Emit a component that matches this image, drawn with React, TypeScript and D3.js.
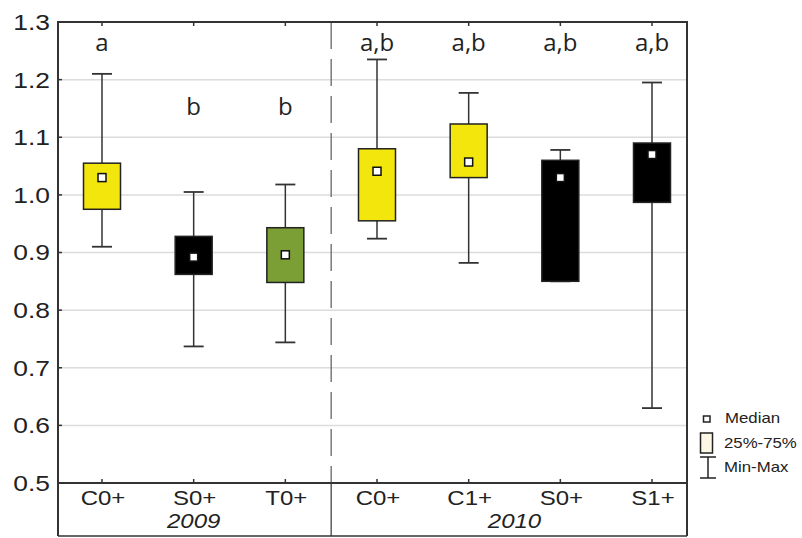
import React from "react";
import * as d3 from "d3";

const categories = ["C0+", "S0+", "T0+", "C0+", "C1+", "S0+", "S1+"];
const years = ["2009", "2010"];
const yearGroups = [0, 0, 0, 1, 1, 1, 1];
const mins = [0.91, 0.737, 0.744, 0.924, 0.882, 0.85, 0.63];
const q1s = [0.975, 0.862, 0.848, 0.955, 1.03, 0.85, 0.987];
const medians = [1.03, 0.892, 0.896, 1.041, 1.057, 1.03, 1.07];
const q3s = [1.055, 0.928, 0.943, 1.08, 1.123, 1.06, 1.09];
const maxs = [1.21, 1.005, 1.018, 1.235, 1.177, 1.078, 1.195];
const fills = ["#f2e60c", "#000000", "#7b9e35", "#f2e60c", "#f2e60c", "#000000", "#000000"];
const letters = ["a", "b", "b", "a,b", "a,b", "a,b", "a,b"];
const letterRows = [0, 1, 1, 0, 0, 0, 0];
const yTicks = [0.5, 0.6, 0.7, 0.8, 0.9, 1.0, 1.1, 1.2, 1.3];
const legendLabels = ["Median", "25%-75%", "Min-Max"];

const SX = 1.2;
const fontAx = "Liberation Sans, Arial, sans-serif";

function T(props: { x: number; y: number; anchor?: string; size: number; italic?: boolean; family?: string; dy?: string; children: React.ReactNode }) {
  return (
    <g transform={`translate(${props.x},${props.y}) scale(${SX},1)`}>
      <text
        x={0}
        y={0}
        dy={props.dy}
        textAnchor={props.anchor || "start"}
        fontSize={props.size}
        fontStyle={props.italic ? "italic" : "normal"}
        fontFamily={props.family || fontAx}
        fill="#222"
      >
        {props.children}
      </text>
    </g>
  );
}

export default function App() {
  const W = 802, H = 538;
  const left = 58, right = 687, top = 22, bottom = 483, frameBottom = 536;
  const y = d3.scaleLinear().domain([0.5, 1.3]).range([bottom, top]);
  const x = d3.scalePoint<number>().domain(d3.range(categories.length)).range([102, 652]);
  const bw = 37, cap = 20;
  const sepX = (x(2)! + x(3)!) / 2;
  const letterY = [51, 115];

  return (
    <svg width={W} height={H} style={{ position: "absolute", left: 0, top: 0, background: "#fff" }}>
      {yTicks.map((t) => (
        <line key={"g" + t} x1={left} x2={right} y1={y(t)} y2={y(t)} stroke="#dcdcdc" strokeWidth={1.5} />
      ))}
      <line x1={sepX} x2={sepX} y1={top} y2={bottom} stroke="#666" strokeWidth={1.3} strokeDasharray="27,10" />
      <line x1={sepX} x2={sepX} y1={bottom} y2={frameBottom} stroke="#444" strokeWidth={1.3} />
      <line x1={left} x2={right} y1={top} y2={top} stroke="#333" strokeWidth={2} />
      <line x1={left} x2={right} y1={bottom} y2={bottom} stroke="#333" strokeWidth={2} />
      <line x1={left} x2={right} y1={frameBottom} y2={frameBottom} stroke="#333" strokeWidth={1.5} />
      <line x1={left} x2={left} y1={top - 1} y2={frameBottom} stroke="#333" strokeWidth={2} />
      <line x1={right} x2={right} y1={top - 1} y2={frameBottom} stroke="#333" strokeWidth={2} />
      {yTicks.map((t) => (
        <g key={"t" + t}>
          <line x1={left} x2={left + 4} y1={y(t)} y2={y(t)} stroke="#333" strokeWidth={1.5} />
          <T x={50} y={y(t)} dy="0.36em" anchor="end" size={22}>{d3.format(".1f")(t)}</T>
        </g>
      ))}
      {categories.map((c, i) => (
        <g key={"ct" + i}>
          <line x1={x(i)} x2={x(i)} y1={top} y2={top + 4} stroke="#333" strokeWidth={1.5} />
          <line x1={x(i)} x2={x(i)} y1={bottom} y2={bottom - 4} stroke="#333" strokeWidth={1.5} />
          <T x={x(i)! + 1} y={505} anchor="middle" size={20}>{c}</T>
        </g>
      ))}
      {years.map((yr, gi) => {
        const idx = d3.range(categories.length).filter((i) => yearGroups[i] === gi);
        const cx = (x(idx[0])! + x(idx[idx.length - 1])!) / 2;
        return (
          <T key={yr} x={cx} y={528} anchor="middle" size={20} italic>{yr}</T>
        );
      })}
      {categories.map((c, i) => {
        const cx = x(i)!;
        return (
          <g key={"b" + i}>
            <line x1={cx} x2={cx} y1={y(maxs[i])} y2={y(mins[i])} stroke="#333" strokeWidth={1.5} />
            <line x1={cx - cap / 2} x2={cx + cap / 2} y1={y(maxs[i])} y2={y(maxs[i])} stroke="#333" strokeWidth={1.8} />
            <line x1={cx - cap / 2} x2={cx + cap / 2} y1={y(mins[i])} y2={y(mins[i])} stroke="#333" strokeWidth={1.8} />
            <rect x={cx - bw / 2} y={y(q3s[i])} width={bw} height={y(q1s[i]) - y(q3s[i])} fill={fills[i]} stroke="#222" strokeWidth={1.5} />
            <rect x={cx - 4} y={y(medians[i]) - 4} width={8} height={8} fill="#fff" stroke="#111" strokeWidth={1.5} />
            <text x={cx} y={letterY[letterRows[i]]} textAnchor="middle" fontSize={24} fontFamily="Open Sans, sans-serif" fill="#222">{letters[i]}</text>
          </g>
        );
      })}
      {/* legend */}
      <rect x={703.5} y={416} width={6.5} height={6} fill="#fff" stroke="#222" strokeWidth={1.5} />
      <T x={725} y={423} size={14}>{legendLabels[0]}</T>
      <rect x={700.5} y={433} width={12} height={20} fill="#fdf8e6" stroke="#222" strokeWidth={1.5} />
      <T x={724} y={448} size={14}>{legendLabels[1]}</T>
      <line x1={700} x2={716} y1={457} y2={457} stroke="#222" strokeWidth={1.5} />
      <line x1={708} x2={708} y1={457} y2={478} stroke="#222" strokeWidth={1.5} />
      <line x1={700} x2={716} y1={478} y2={478} stroke="#222" strokeWidth={1.5} />
      <T x={724} y={472} size={14}>{legendLabels[2]}</T>
    </svg>
  );
}
